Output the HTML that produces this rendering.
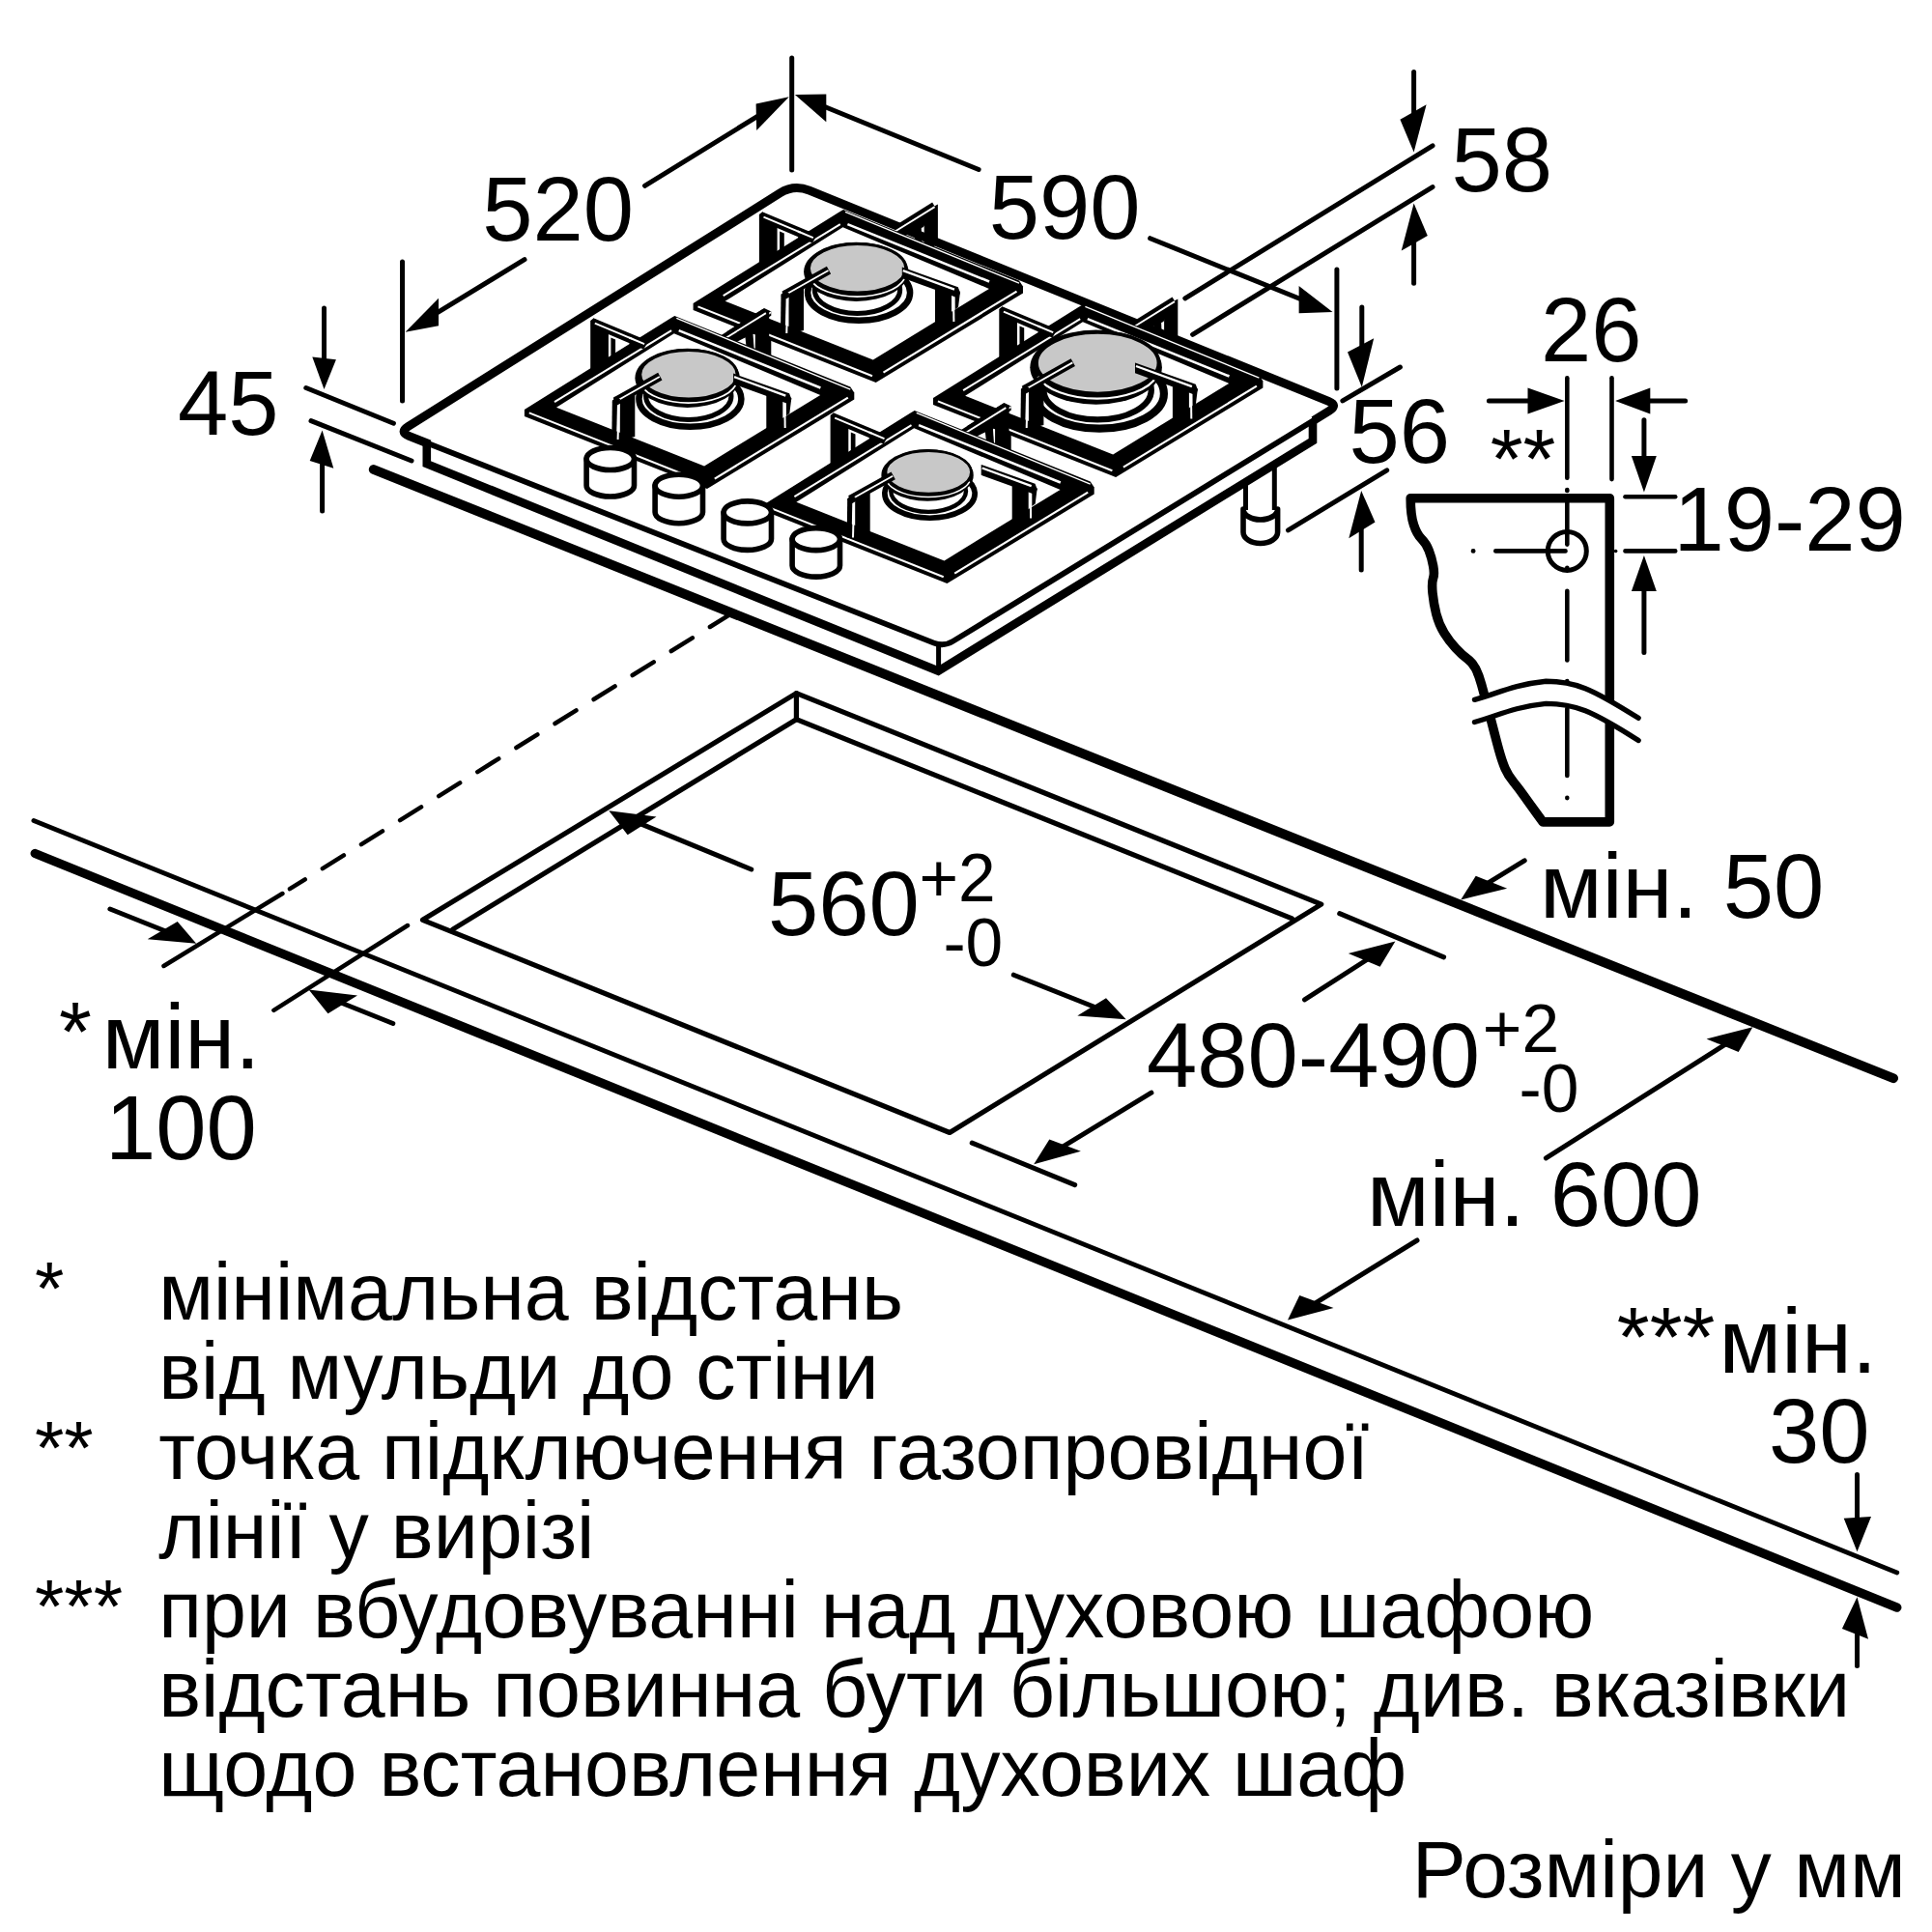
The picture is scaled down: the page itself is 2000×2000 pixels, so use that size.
<!DOCTYPE html>
<html lang="uk"><head><meta charset="utf-8"><title>Розміри</title>
<style>
html,body{margin:0;padding:0;background:#fff}
svg{display:block}
text{font-family:"Liberation Sans",sans-serif;fill:#000}
</style></head><body>
<svg width="2000" height="2000" viewBox="0 0 2000 2000">
<rect width="2000" height="2000" fill="#fff"/>
<g id="counter">
<line x1="386.7" y1="486" x2="1960.1" y2="1116.3" stroke="#000" stroke-width="9.8" stroke-linecap="round"/>
<line x1="34.9" y1="849.4" x2="1963.8" y2="1627.9" stroke="#000" stroke-width="4.8" stroke-linecap="round"/>
<line x1="36.2" y1="883.5" x2="1963.8" y2="1664.1" stroke="#000" stroke-width="9.3" stroke-linecap="round"/>
</g>
<g id="cutout">
<polygon points="437.5,952.3 824.4,717.6 1367.8,936.1 983.1,1172.5" fill="none" stroke="#000" stroke-width="5.2" stroke-linejoin="round"/>
<polyline points="468.6,962.1 824.4,744.7 1337.5,950.8" fill="none" stroke="#000" stroke-width="5.2" stroke-linecap="round" stroke-linejoin="round"/>
<line x1="824.4" y1="717.6" x2="824.4" y2="744.7" stroke="#000" stroke-width="5.2" stroke-linecap="round"/>
</g>
<g id="ext">
<line x1="756.9" y1="635.3" x2="300" y2="920.2" stroke="#000" stroke-width="4.5" stroke-linecap="round" stroke-dasharray="25.9 21.36"/>
<line x1="292.4" y1="925" x2="169.5" y2="1000" stroke="#000" stroke-width="4.5" stroke-linecap="round"/>
<line x1="422" y1="958" x2="283.4" y2="1045.8" stroke="#000" stroke-width="4.5" stroke-linecap="round"/>
</g>
<g id="hob">
<polyline points="441.8,452 441.8,480.2 971.3,694.6 1359,456.3 1359,436" fill="none" stroke="#000" stroke-width="8.6" stroke-linecap="butt" stroke-linejoin="miter"/>
<line x1="971.6" y1="667" x2="971.6" y2="694" stroke="#000" stroke-width="5" stroke-linecap="round"/>
<path d="M423.4 451.3 Q413.2 447.3 422.5 441.5 L807.6 199.8 Q822 190.8 837.8 197.2 L1375.3 415.4 Q1385.5 419.5 1376.1 425.2 L986.4 663.9 Q977 669.6 966.8 665.6 Z" fill="#fff" stroke="#000" stroke-width="5.8" stroke-linecap="round" stroke-linejoin="round"/>
<path d="M444.8 459.8 L423.4 451.3 Q413.2 447.3 422.5 441.5 L807.6 199.8 Q822 190.8 837.8 197.2 L1375.3 415.4 Q1385.5 419.5 1376.1 425.2 L1359.9 435.2" fill="none" stroke="#000" stroke-width="8.9" stroke-linecap="butt" stroke-linejoin="round"/>
<line x1="1289.5" y1="499" x2="1289.5" y2="528" stroke="#000" stroke-width="5" stroke-linecap="butt"/>
<line x1="1319.3" y1="481" x2="1319.3" y2="528" stroke="#000" stroke-width="5" stroke-linecap="butt"/>
<path d="M1287 527 L1287 551 A17.8 11.5 0 0 0 1322.6 551 L1322.6 527 A17.8 11 0 0 1 1287 527 Z" fill="#fff" stroke="#000" stroke-width="5.6" stroke-linecap="round" stroke-linejoin="round"/>
</g>
<g id="bracket">
<path d="M1460.2 515.7 Q1460.2 533.5 1463.5 543.2 Q1466.7 553 1471.6 557.9 Q1476.5 562.8 1479.2 569.9 Q1482 577 1483.6 585.6 Q1485.2 594.3 1483.6 598.6 Q1482 603 1483 613.9 Q1484.1 624.8 1486.8 635.6 Q1489.6 646.5 1495 655.2 Q1500.4 663.9 1507 671 Q1513.5 678 1518.9 681.9 Q1524.3 685.7 1527.6 692.2 Q1530.9 698.7 1533.6 708.5 Q1536.3 718.3 1539.5 730.2 Q1542.8 742.2 1545.5 753 Q1548.3 763.9 1551.5 775.8 Q1554.8 787.8 1558 795.4 Q1561.3 803 1566.8 809.5 Q1572.2 816.1 1577.6 823.7 Q1583 831.3 1590.1 841.1 L1597.2 850.9 L1666.3 850.9 L1666.3 515.7 Z" fill="none" stroke="#000" stroke-width="9.6" stroke-linecap="round" stroke-linejoin="round"/>
<path d="M1526.5 724.3 C1549.7 718.4 1564.2 709 1600.4 705.2 C1630.4 705.2 1647.1 712.4 1696.1 743.3 L1696.1 766.5 L1659.1 742.6 L1600.4 728.4 L1572.2 731.2 L1526.5 747.5 Z" fill="#fff" stroke="none"/>
<path d="M1526.5 724.3 C1549.7 718.4 1564.2 709 1600.4 705.2 C1630.4 705.2 1647.1 712.4 1696.1 743.3" fill="none" stroke="#000" stroke-width="5.4" stroke-linecap="round" stroke-linejoin="round"/>
<path d="M1526.5 747.5 C1549.7 741.6 1564.2 732.2 1600.4 728.4 C1630.4 728.4 1647.1 735.6 1696.1 766.5" fill="none" stroke="#000" stroke-width="5.4" stroke-linecap="round" stroke-linejoin="round"/>
<ellipse cx="1622.3" cy="570.4" rx="20" ry="20" fill="none" stroke="#000" stroke-width="5"/>
<line x1="1622.3" y1="391.3" x2="1622.3" y2="494.8" stroke="#000" stroke-width="4.6" stroke-linecap="round"/>
<line x1="1622.3" y1="507" x2="1622.3" y2="508" stroke="#000" stroke-width="4.6" stroke-linecap="round"/>
<line x1="1622.3" y1="517" x2="1622.3" y2="563.6" stroke="#000" stroke-width="4.6" stroke-linecap="round"/>
<line x1="1622.3" y1="587.8" x2="1622.3" y2="588" stroke="#000" stroke-width="4.6" stroke-linecap="round"/>
<line x1="1622.3" y1="611.7" x2="1622.3" y2="683.5" stroke="#000" stroke-width="4.6" stroke-linecap="round"/>
<line x1="1622.3" y1="705" x2="1622.3" y2="705.3" stroke="#000" stroke-width="4.6" stroke-linecap="round"/>
<line x1="1622.3" y1="733.5" x2="1622.3" y2="803" stroke="#000" stroke-width="4.6" stroke-linecap="round"/>
<line x1="1622.3" y1="825.9" x2="1622.3" y2="826.1" stroke="#000" stroke-width="4.6" stroke-linecap="round"/>
<line x1="1668.5" y1="391.3" x2="1668.5" y2="496.1" stroke="#000" stroke-width="4.6" stroke-linecap="round"/>
<line x1="1525" y1="570.4" x2="1525.2" y2="570.4" stroke="#000" stroke-width="4.6" stroke-linecap="round"/>
<line x1="1548.3" y1="570.4" x2="1620.5" y2="570.4" stroke="#000" stroke-width="4.6" stroke-linecap="round"/>
<line x1="1672.5" y1="570.4" x2="1672.7" y2="570.4" stroke="#000" stroke-width="3.5" stroke-linecap="round"/>
<line x1="1682.5" y1="570.4" x2="1734.2" y2="570.4" stroke="#000" stroke-width="4.6" stroke-linecap="round"/>
<line x1="1682.5" y1="514.2" x2="1734.2" y2="514.2" stroke="#000" stroke-width="4.6" stroke-linecap="round"/>
</g>
<g id="dims">
<line x1="416.5" y1="271" x2="416.5" y2="415" stroke="#000" stroke-width="5" stroke-linecap="round"/>
<line x1="819.7" y1="60" x2="819.7" y2="176" stroke="#000" stroke-width="5" stroke-linecap="round"/>
<line x1="667.5" y1="192.3" x2="798.1" y2="111.8" stroke="#000" stroke-width="5" stroke-linecap="round"/>
<polygon points="816.8,100.2 782.6,107.6 783.2,135" fill="#000"/>
<line x1="543" y1="268.7" x2="438.4" y2="332.3" stroke="#000" stroke-width="5" stroke-linecap="round"/>
<polygon points="419.6,343.7 454,308.8 454,337.3" fill="#000"/>
<line x1="1013.1" y1="175.5" x2="843.3" y2="106.2" stroke="#000" stroke-width="5" stroke-linecap="round"/>
<polygon points="822.9,97.9 855.3,97.4 855.3,126.3" fill="#000"/>
<line x1="1190.6" y1="246.7" x2="1359.1" y2="314.8" stroke="#000" stroke-width="5" stroke-linecap="round"/>
<polygon points="1379.5,323 1344.6,295.9 1344.6,324.3" fill="#000"/>
<line x1="1383.9" y1="279" x2="1383.9" y2="402" stroke="#000" stroke-width="5" stroke-linecap="round"/>
<line x1="335.5" y1="319" x2="335.5" y2="381" stroke="#000" stroke-width="5" stroke-linecap="round"/>
<polygon points="335.5,403 323.3,369.6 347.9,372.2" fill="#000"/>
<line x1="333.6" y1="529" x2="333.6" y2="467.4" stroke="#000" stroke-width="5" stroke-linecap="round"/>
<polygon points="333.6,445.4 320.7,477 345.3,484.8" fill="#000"/>
<line x1="316.8" y1="401.5" x2="407.4" y2="438.2" stroke="#000" stroke-width="5" stroke-linecap="round"/>
<line x1="322" y1="435.6" x2="426" y2="477" stroke="#000" stroke-width="5" stroke-linecap="round"/>
<line x1="1463.6" y1="74.6" x2="1463.6" y2="135.4" stroke="#000" stroke-width="5" stroke-linecap="round"/>
<polygon points="1463.6,157.4 1449.4,123.8 1476.6,108.2" fill="#000"/>
<line x1="1463.6" y1="293.3" x2="1463.6" y2="232.5" stroke="#000" stroke-width="5" stroke-linecap="round"/>
<polygon points="1463.6,210.5 1450.7,259.6 1477.8,244.1" fill="#000"/>
<line x1="1226.8" y1="308.8" x2="1483" y2="150.9" stroke="#000" stroke-width="5" stroke-linecap="round"/>
<line x1="1234.6" y1="346.3" x2="1483" y2="193.6" stroke="#000" stroke-width="5" stroke-linecap="round"/>
<line x1="1409.8" y1="317.9" x2="1409.8" y2="378.7" stroke="#000" stroke-width="5" stroke-linecap="round"/>
<polygon points="1409.8,400.7 1395,364.4 1422.2,350.2" fill="#000"/>
<line x1="1409.2" y1="590" x2="1409.2" y2="530.1" stroke="#000" stroke-width="5" stroke-linecap="round"/>
<polygon points="1409.2,508.1 1396.3,557.3 1423.5,540.5" fill="#000"/>
<line x1="1389.9" y1="414.9" x2="1449.4" y2="380" stroke="#000" stroke-width="5" stroke-linecap="round"/>
<line x1="1333.5" y1="548.9" x2="1435.7" y2="486.8" stroke="#000" stroke-width="5" stroke-linecap="round"/>
<line x1="1541.4" y1="415.1" x2="1597.6" y2="415.1" stroke="#000" stroke-width="5" stroke-linecap="round"/>
<polygon points="1619.6,415.1 1581.5,401.6 1581.5,428.4" fill="#000"/>
<line x1="1744.6" y1="415.1" x2="1694.1" y2="415.1" stroke="#000" stroke-width="5" stroke-linecap="round"/>
<polygon points="1672.1,415.1 1708.3,401.6 1708.3,428.4" fill="#000"/>
<line x1="1701.9" y1="434.8" x2="1701.9" y2="487.6" stroke="#000" stroke-width="5" stroke-linecap="round"/>
<polygon points="1701.9,509.6 1688.9,472 1714.8,472" fill="#000"/>
<line x1="1701.9" y1="675.5" x2="1701.9" y2="597" stroke="#000" stroke-width="5" stroke-linecap="round"/>
<polygon points="1701.9,575 1688.9,612 1714.8,612" fill="#000"/>
<line x1="113.9" y1="941" x2="182.8" y2="968.5" stroke="#000" stroke-width="5" stroke-linecap="round"/>
<polygon points="203.2,976.7 152.7,972.3 183.7,953.9" fill="#000"/>
<line x1="406.8" y1="1059.5" x2="340" y2="1032.8" stroke="#000" stroke-width="5" stroke-linecap="round"/>
<polygon points="319.6,1024.6 370,1030.5 339.5,1049.2" fill="#000"/>
<line x1="777.8" y1="900" x2="650.6" y2="847.6" stroke="#000" stroke-width="5" stroke-linecap="round"/>
<polygon points="630.3,839.2 679.5,845.6 649.7,864.3" fill="#000"/>
<line x1="1049.3" y1="1009.2" x2="1145.2" y2="1047.2" stroke="#000" stroke-width="5" stroke-linecap="round"/>
<polygon points="1165.7,1055.3 1115.3,1051.4 1145,1033.3" fill="#000"/>
<line x1="1350.5" y1="1034.9" x2="1425.9" y2="986.5" stroke="#000" stroke-width="5" stroke-linecap="round"/>
<polygon points="1444.4,974.6 1395.8,987 1428.6,1000.8" fill="#000"/>
<line x1="1386.7" y1="945.6" x2="1494.6" y2="990.9" stroke="#000" stroke-width="5" stroke-linecap="round"/>
<line x1="1191.9" y1="1131.2" x2="1089" y2="1193.8" stroke="#000" stroke-width="5" stroke-linecap="round"/>
<polygon points="1070.2,1205.2 1118.9,1191.8 1086.3,1179.4" fill="#000"/>
<line x1="1006.2" y1="1183.1" x2="1112.7" y2="1226.6" stroke="#000" stroke-width="5" stroke-linecap="round"/>
<line x1="1578.2" y1="890.8" x2="1530.9" y2="919.9" stroke="#000" stroke-width="5" stroke-linecap="round"/>
<polygon points="1512.2,931.4 1560.1,919.8 1527.7,906.8" fill="#000"/>
<line x1="1600.4" y1="1198.8" x2="1795.8" y2="1075" stroke="#000" stroke-width="5" stroke-linecap="round"/>
<polygon points="1814.4,1063.2 1766.6,1075.4 1799.7,1089.1" fill="#000"/>
<line x1="1467" y1="1284" x2="1351.7" y2="1355.1" stroke="#000" stroke-width="5" stroke-linecap="round"/>
<polygon points="1333,1366.6 1380.5,1354.1 1345.3,1341.1" fill="#000"/>
<line x1="1922.5" y1="1526.4" x2="1922.5" y2="1584.2" stroke="#000" stroke-width="5" stroke-linecap="round"/>
<polygon points="1922.5,1606.2 1908.7,1571.7 1937,1570" fill="#000"/>
<line x1="1922.5" y1="1724.6" x2="1922.5" y2="1675.3" stroke="#000" stroke-width="5" stroke-linecap="round"/>
<polygon points="1922.5,1653.3 1906.9,1685.9 1934,1696.7" fill="#000"/>
</g>
<g id="labels">
<text x="499.2" y="249" font-size="94">520</text>
<text x="1023.7" y="247" font-size="94">590</text>
<text x="1502.5" y="197.5" font-size="94">58</text>
<text x="184" y="450" font-size="94">45</text>
<text x="1396.5" y="479" font-size="94">56</text>
<text x="1595.1" y="373.6" font-size="94">26</text>
<text x="1542.7" y="504.5" font-size="87">**</text>
<text x="1732.4" y="569.9" font-size="94">19-29</text>
<text x="61" y="1098" font-size="87">*</text>
<text x="105.8" y="1105.9" font-size="94">мін.</text>
<text x="109" y="1200" font-size="94">100</text>
<text x="794.9" y="968" font-size="94">560</text>
<text x="951.5" y="933.1" font-size="69.5">+2</text>
<text x="976.4" y="999.6" font-size="69.5">-0</text>
<text x="1187" y="1125.3" font-size="94">480-490</text>
<text x="1534.8" y="1089.3" font-size="69.5">+2</text>
<text x="1572.6" y="1151.4" font-size="69.5">-0</text>
<text x="1594" y="949.5" font-size="94">мін. 50</text>
<text x="1415.1" y="1268.5" font-size="94">мін. 600</text>
<text x="1673.8" y="1414.1" font-size="87">***</text>
<text x="1779.5" y="1421.4" font-size="94">мін.</text>
<text x="1830.9" y="1513.8" font-size="94">30</text>
</g>
<g id="legend">
<text x="164.2" y="1366.1" font-size="82.6">мінімальна відстань</text>
<text x="164.2" y="1448.3" font-size="82.6">від мульди до стіни</text>
<text x="164.2" y="1530.5" font-size="82.6">точка підключення газопровідної</text>
<text x="164.2" y="1612.7" font-size="82.6">лінії у вирізі</text>
<text x="164.2" y="1694.9" font-size="82.6">при вбудовуванні над духовою шафою</text>
<text x="164.2" y="1777.1" font-size="82.6">відстань повинна бути більшою; див. вказівки</text>
<text x="164.2" y="1859.3" font-size="82.6">щодо встановлення духових шаф</text>
<text x="36" y="1361.2" font-size="78">*</text>
<text x="36" y="1525.6" font-size="78">**</text>
<text x="36" y="1690" font-size="78">***</text>
<text x="1461.8" y="1964" font-size="84">Розміри у мм</text>
</g>
<g id="grates">
<g transform="translate(0 0)">
<polygon points="785.9,222 789,219.5 804.6,228 804.6,270 785.9,282" fill="#000"/>
<polygon points="807.1,239.5 811.8,241.5 811.8,262 807.1,265" fill="#000"/>
<polygon points="789,219.2 846,243 841,251.5 788,229" fill="#000"/>
<line x1="790.5" y1="224.6" x2="841.8" y2="246.1" stroke="#fff" stroke-width="1.9" stroke-linecap="butt"/>
<polygon points="956.7,219 970.9,211.5 970.9,252 956.7,262" fill="#000"/>
<polygon points="946,237.5 953.6,232.5 954.6,259 948,256" fill="#000"/>
<line x1="928.5" y1="235.5" x2="966.5" y2="211.8" stroke="#000" stroke-width="5.2" stroke-linecap="butt"/>
<polygon points="926.3,239.7 967.6,214.1 956,235 945,240 935,245" fill="#000"/>
<line x1="926.3" y1="239.7" x2="967.6" y2="214.1" stroke="#fff" stroke-width="1.9" stroke-linecap="butt"/>
<polygon points="781.8,330.4 798.3,323.2 798.3,376 781.8,368.7" fill="#000"/>
<polygon points="774.3,344.9 779.2,342 781.1,367.9 776.1,365.6" fill="#000"/>
<polygon points="717.6,314 868,220 873,217 1055,290.6 1059,296.5 1059,303.5 906.7,396 717.6,321" fill="#000"/>
<polygon points="750.7,311.8 872.5,235.3 1023.9,298.9 903.8,372.4" fill="#fff"/>
<line x1="748.7" y1="306.1" x2="869.8" y2="232.1" stroke="#fff" stroke-width="2" stroke-linecap="butt"/>
<line x1="875" y1="219.4" x2="1055" y2="293.2" stroke="#fff" stroke-width="1.4" stroke-linecap="butt"/>
<line x1="877.4" y1="232.1" x2="1024.1" y2="291.5" stroke="#fff" stroke-width="2.6" stroke-linecap="butt"/>
<line x1="722.5" y1="317.4" x2="903" y2="389.2" stroke="#fff" stroke-width="2" stroke-linecap="butt"/>
<line x1="1052.5" y1="301.6" x2="914.5" y2="385.6" stroke="#fff" stroke-width="2.2" stroke-linecap="butt"/>
<polygon points="830,238 846,243 841,251.5 826,246" fill="#000"/>
<line x1="826" y1="239.5" x2="841.8" y2="246.1" stroke="#fff" stroke-width="1.9" stroke-linecap="butt"/>
<polygon points="746.6,347 791.1,319 798.3,322.4 798.3,326.8 753.8,354.8 753.8,350.3" fill="#000"/>
<line x1="754.2" y1="350.7" x2="798.1" y2="323.2" stroke="#fff" stroke-width="1.9" stroke-linecap="butt"/>
<g transform="translate(886.7 278) scale(1.000) translate(-886.7 -278)">
<ellipse cx="889.1" cy="303" rx="53" ry="28.7" fill="#fff" stroke="#000" stroke-width="6.5"/>
<ellipse cx="887.5" cy="300" rx="44.2" ry="24.4" fill="#fff" stroke="#000" stroke-width="5"/>
<ellipse cx="886.3" cy="281.3" rx="54.2" ry="30.6" fill="#000"/>
<path d="M838.6 289 A50.5 24.6 0 0 0 936 289" fill="none" stroke="#fff" stroke-width="1.7"/>
<ellipse cx="887.6" cy="277.8" rx="50.2" ry="25.3" fill="#c8c8c8" stroke="#000" stroke-width="3"/>
</g>
<g transform="translate(0 0)">
<polygon points="816.5,303.5 832,295.5 832,342 816.5,346" fill="#000"/>
<polygon points="808.5,304.5 813.8,302 812.8,345 808,345" fill="#000"/>
<line x1="815.3" y1="305" x2="814.3" y2="345" stroke="#fff" stroke-width="2" stroke-linecap="butt"/>
<line x1="858" y1="279.7" x2="811.5" y2="305.6" stroke="#000" stroke-width="8.8" stroke-linecap="butt"/>
<line x1="857.5" y1="280" x2="814.5" y2="304.2" stroke="#fff" stroke-width="1.8" stroke-linecap="butt"/>
<polygon points="808.5,306.5 811.5,300.6 817,303.5 813.8,309" fill="#000"/>
</g>
<g transform="translate(0 0)">
<polygon points="968,296 985,302 985,331 968,341" fill="#000"/>
<polygon points="988.6,300 994,302 992,318 988.6,320.5" fill="#000"/>
<line x1="987" y1="301" x2="987.4" y2="333" stroke="#fff" stroke-width="2" stroke-linecap="butt"/>
<polygon points="933.8,276.6 991.8,297.3 994,303 991.8,308.5 933.8,287.5" fill="#000"/>
<line x1="934.8" y1="280.2" x2="988" y2="299.6" stroke="#fff" stroke-width="2.3" stroke-linecap="butt"/>
</g>
</g>
<g transform="translate(248.4 98)">
<polygon points="785.9,222 789,219.5 804.6,228 804.6,270 785.9,282" fill="#000"/>
<polygon points="807.1,239.5 811.8,241.5 811.8,262 807.1,265" fill="#000"/>
<polygon points="789,219.2 846,243 841,251.5 788,229" fill="#000"/>
<line x1="790.5" y1="224.6" x2="841.8" y2="246.1" stroke="#fff" stroke-width="1.9" stroke-linecap="butt"/>
<polygon points="956.7,219 970.9,211.5 970.9,252 956.7,262" fill="#000"/>
<polygon points="946,237.5 953.6,232.5 954.6,259 948,256" fill="#000"/>
<line x1="928.5" y1="235.5" x2="966.5" y2="211.8" stroke="#000" stroke-width="5.2" stroke-linecap="butt"/>
<polygon points="926.3,239.7 967.6,214.1 956,235 945,240 935,245" fill="#000"/>
<line x1="926.3" y1="239.7" x2="967.6" y2="214.1" stroke="#fff" stroke-width="1.9" stroke-linecap="butt"/>
<polygon points="781.8,330.4 798.3,323.2 798.3,376 781.8,368.7" fill="#000"/>
<polygon points="774.3,344.9 779.2,342 781.1,367.9 776.1,365.6" fill="#000"/>
<polygon points="717.6,314 868,220 873,217 1055,290.6 1059,296.5 1059,303.5 906.7,396 717.6,321" fill="#000"/>
<polygon points="750.7,311.8 872.5,235.3 1023.9,298.9 903.8,372.4" fill="#fff"/>
<line x1="748.7" y1="306.1" x2="869.8" y2="232.1" stroke="#fff" stroke-width="2" stroke-linecap="butt"/>
<line x1="875" y1="219.4" x2="1055" y2="293.2" stroke="#fff" stroke-width="1.4" stroke-linecap="butt"/>
<line x1="877.4" y1="232.1" x2="1024.1" y2="291.5" stroke="#fff" stroke-width="2.6" stroke-linecap="butt"/>
<line x1="722.5" y1="317.4" x2="903" y2="389.2" stroke="#fff" stroke-width="2" stroke-linecap="butt"/>
<line x1="1052.5" y1="301.6" x2="914.5" y2="385.6" stroke="#fff" stroke-width="2.2" stroke-linecap="butt"/>
<polygon points="830,238 846,243 841,251.5 826,246" fill="#000"/>
<line x1="826" y1="239.5" x2="841.8" y2="246.1" stroke="#fff" stroke-width="1.9" stroke-linecap="butt"/>
<polygon points="746.6,347 791.1,319 798.3,322.4 798.3,326.8 753.8,354.8 753.8,350.3" fill="#000"/>
<line x1="754.2" y1="350.7" x2="798.1" y2="323.2" stroke="#fff" stroke-width="1.9" stroke-linecap="butt"/>
<g transform="translate(886.7 278) scale(1.260) translate(-886.7 -278)">
<ellipse cx="889.1" cy="303" rx="53" ry="28.7" fill="#fff" stroke="#000" stroke-width="6.5"/>
<ellipse cx="887.5" cy="300" rx="44.2" ry="24.4" fill="#fff" stroke="#000" stroke-width="5"/>
<ellipse cx="886.3" cy="281.3" rx="54.2" ry="30.6" fill="#000"/>
<path d="M838.6 289 A50.5 24.6 0 0 0 936 289" fill="none" stroke="#fff" stroke-width="1.7"/>
<ellipse cx="887.6" cy="277.8" rx="50.2" ry="25.3" fill="#c8c8c8" stroke="#000" stroke-width="3"/>
</g>
<g transform="translate(0 0)">
<polygon points="816.5,303.5 832,295.5 832,342 816.5,346" fill="#000"/>
<polygon points="808.5,304.5 813.8,302 812.8,345 808,345" fill="#000"/>
<line x1="815.3" y1="305" x2="814.3" y2="345" stroke="#fff" stroke-width="2" stroke-linecap="butt"/>
<line x1="862.4" y1="277.1" x2="811.5" y2="305.6" stroke="#000" stroke-width="8.8" stroke-linecap="butt"/>
<line x1="861.9" y1="277.4" x2="814.5" y2="304.2" stroke="#fff" stroke-width="1.8" stroke-linecap="butt"/>
<polygon points="808.5,306.5 811.5,300.6 817,303.5 813.8,309" fill="#000"/>
</g>
<g transform="translate(-2.5 2.5)">
<polygon points="968,296 985,302 985,331 968,341" fill="#000"/>
<polygon points="988.6,300 994,302 992,318 988.6,320.5" fill="#000"/>
<line x1="987" y1="301" x2="987.4" y2="333" stroke="#fff" stroke-width="2" stroke-linecap="butt"/>
<polygon points="929.1,274.9 991.8,297.3 994,303 991.8,308.5 929.1,285.8" fill="#000"/>
<line x1="930.1" y1="278.5" x2="988" y2="299.6" stroke="#fff" stroke-width="2.3" stroke-linecap="butt"/>
</g>
</g>
<g transform="translate(-174.7 110)">
<polygon points="785.9,222 789,219.5 804.6,228 804.6,270 785.9,282" fill="#000"/>
<polygon points="807.1,239.5 811.8,241.5 811.8,262 807.1,265" fill="#000"/>
<polygon points="789,219.2 846,243 841,251.5 788,229" fill="#000"/>
<line x1="790.5" y1="224.6" x2="841.8" y2="246.1" stroke="#fff" stroke-width="1.9" stroke-linecap="butt"/>
<polygon points="956.7,219 970.9,211.5 970.9,252 956.7,262" fill="#000"/>
<polygon points="946,237.5 953.6,232.5 954.6,259 948,256" fill="#000"/>
<line x1="928.5" y1="235.5" x2="966.5" y2="211.8" stroke="#000" stroke-width="5.2" stroke-linecap="butt"/>
<polygon points="926.3,239.7 967.6,214.1 956,235 945,240 935,245" fill="#000"/>
<line x1="926.3" y1="239.7" x2="967.6" y2="214.1" stroke="#fff" stroke-width="1.9" stroke-linecap="butt"/>
<polygon points="717.6,314 868,220 873,217 1055,290.6 1059,296.5 1059,303.5 906.7,396 717.6,321" fill="#000"/>
<polygon points="750.7,311.8 872.5,235.3 1023.9,298.9 903.8,372.4" fill="#fff"/>
<line x1="748.7" y1="306.1" x2="869.8" y2="232.1" stroke="#fff" stroke-width="2" stroke-linecap="butt"/>
<line x1="875" y1="219.4" x2="1055" y2="293.2" stroke="#fff" stroke-width="1.4" stroke-linecap="butt"/>
<line x1="877.4" y1="232.1" x2="1024.1" y2="291.5" stroke="#fff" stroke-width="2.6" stroke-linecap="butt"/>
<line x1="722.5" y1="317.4" x2="903" y2="389.2" stroke="#fff" stroke-width="2" stroke-linecap="butt"/>
<line x1="1052.5" y1="301.6" x2="914.5" y2="385.6" stroke="#fff" stroke-width="2.2" stroke-linecap="butt"/>
<polygon points="830,238 846,243 841,251.5 826,246" fill="#000"/>
<line x1="826" y1="239.5" x2="841.8" y2="246.1" stroke="#fff" stroke-width="1.9" stroke-linecap="butt"/>
<g transform="translate(886.7 278) scale(1.000) translate(-886.7 -278)">
<ellipse cx="889.1" cy="303" rx="53" ry="28.7" fill="#fff" stroke="#000" stroke-width="6.5"/>
<ellipse cx="887.5" cy="300" rx="44.2" ry="24.4" fill="#fff" stroke="#000" stroke-width="5"/>
<ellipse cx="886.3" cy="281.3" rx="54.2" ry="30.6" fill="#000"/>
<path d="M838.6 289 A50.5 24.6 0 0 0 936 289" fill="none" stroke="#fff" stroke-width="1.7"/>
<ellipse cx="887.6" cy="277.8" rx="50.2" ry="25.3" fill="#c8c8c8" stroke="#000" stroke-width="3"/>
</g>
<g transform="translate(0 0)">
<polygon points="816.5,303.5 832,295.5 832,342 816.5,346" fill="#000"/>
<polygon points="808.5,304.5 813.8,302 812.8,345 808,345" fill="#000"/>
<line x1="815.3" y1="305" x2="814.3" y2="345" stroke="#fff" stroke-width="2" stroke-linecap="butt"/>
<line x1="858" y1="279.7" x2="811.5" y2="305.6" stroke="#000" stroke-width="8.8" stroke-linecap="butt"/>
<line x1="857.5" y1="280" x2="814.5" y2="304.2" stroke="#fff" stroke-width="1.8" stroke-linecap="butt"/>
<polygon points="808.5,306.5 811.5,300.6 817,303.5 813.8,309" fill="#000"/>
</g>
<g transform="translate(0 0)">
<polygon points="968,296 985,302 985,331 968,341" fill="#000"/>
<polygon points="988.6,300 994,302 992,318 988.6,320.5" fill="#000"/>
<line x1="987" y1="301" x2="987.4" y2="333" stroke="#fff" stroke-width="2" stroke-linecap="butt"/>
<polygon points="933.8,276.6 991.8,297.3 994,303 991.8,308.5 933.8,287.5" fill="#000"/>
<line x1="934.8" y1="280.2" x2="988" y2="299.6" stroke="#fff" stroke-width="2.3" stroke-linecap="butt"/>
</g>
</g>
<g transform="translate(73.7 208)">
<polygon points="785.9,222 789,219.5 804.6,228 804.6,270 785.9,282" fill="#000"/>
<polygon points="807.1,239.5 811.8,241.5 811.8,262 807.1,265" fill="#000"/>
<polygon points="789,219.2 846,243 841,251.5 788,229" fill="#000"/>
<line x1="790.5" y1="224.6" x2="841.8" y2="246.1" stroke="#fff" stroke-width="1.9" stroke-linecap="butt"/>
<polygon points="956.7,219 970.9,211.5 970.9,252 956.7,262" fill="#000"/>
<polygon points="946,237.5 953.6,232.5 954.6,259 948,256" fill="#000"/>
<line x1="928.5" y1="235.5" x2="966.5" y2="211.8" stroke="#000" stroke-width="5.2" stroke-linecap="butt"/>
<polygon points="926.3,239.7 967.6,214.1 956,235 945,240 935,245" fill="#000"/>
<line x1="926.3" y1="239.7" x2="967.6" y2="214.1" stroke="#fff" stroke-width="1.9" stroke-linecap="butt"/>
<polygon points="717.6,314 868,220 873,217 1055,290.6 1059,296.5 1059,303.5 906.7,396 717.6,321" fill="#000"/>
<polygon points="750.7,311.8 872.5,235.3 1023.9,298.9 903.8,372.4" fill="#fff"/>
<line x1="748.7" y1="306.1" x2="869.8" y2="232.1" stroke="#fff" stroke-width="2" stroke-linecap="butt"/>
<line x1="875" y1="219.4" x2="1055" y2="293.2" stroke="#fff" stroke-width="1.4" stroke-linecap="butt"/>
<line x1="877.4" y1="232.1" x2="1024.1" y2="291.5" stroke="#fff" stroke-width="2.6" stroke-linecap="butt"/>
<line x1="722.5" y1="317.4" x2="903" y2="389.2" stroke="#fff" stroke-width="2" stroke-linecap="butt"/>
<line x1="1052.5" y1="301.6" x2="914.5" y2="385.6" stroke="#fff" stroke-width="2.2" stroke-linecap="butt"/>
<polygon points="830,238 846,243 841,251.5 826,246" fill="#000"/>
<line x1="826" y1="239.5" x2="841.8" y2="246.1" stroke="#fff" stroke-width="1.9" stroke-linecap="butt"/>
<g transform="translate(886.7 281) scale(0.880) translate(-886.7 -278)">
<ellipse cx="889.1" cy="303" rx="53" ry="28.7" fill="#fff" stroke="#000" stroke-width="6.5"/>
<ellipse cx="887.5" cy="300" rx="44.2" ry="24.4" fill="#fff" stroke="#000" stroke-width="5"/>
<ellipse cx="886.3" cy="281.3" rx="54.2" ry="30.6" fill="#000"/>
<path d="M838.6 289 A50.5 24.6 0 0 0 936 289" fill="none" stroke="#fff" stroke-width="1.7"/>
<ellipse cx="887.6" cy="277.8" rx="50.2" ry="25.3" fill="#c8c8c8" stroke="#000" stroke-width="3"/>
</g>
<g transform="translate(-5 3.5)">
<polygon points="816.5,303.5 832,295.5 832,342 816.5,346" fill="#000"/>
<polygon points="808.5,304.5 813.8,302 812.8,345 808,345" fill="#000"/>
<line x1="815.3" y1="305" x2="814.3" y2="345" stroke="#fff" stroke-width="2" stroke-linecap="butt"/>
<line x1="856" y1="280.9" x2="811.5" y2="305.6" stroke="#000" stroke-width="8.8" stroke-linecap="butt"/>
<line x1="855.5" y1="281.2" x2="814.5" y2="304.2" stroke="#fff" stroke-width="1.8" stroke-linecap="butt"/>
<polygon points="808.5,306.5 811.5,300.6 817,303.5 813.8,309" fill="#000"/>
</g>
<g transform="translate(6 -4.5)">
<polygon points="968,296 985,302 985,331 968,341" fill="#000"/>
<polygon points="988.6,300 994,302 992,318 988.6,320.5" fill="#000"/>
<line x1="987" y1="301" x2="987.4" y2="333" stroke="#fff" stroke-width="2" stroke-linecap="butt"/>
<polygon points="936,277.4 991.8,297.3 994,303 991.8,308.5 936,288.3" fill="#000"/>
<line x1="937" y1="281" x2="988" y2="299.6" stroke="#fff" stroke-width="2.3" stroke-linecap="butt"/>
</g>
</g>
</g>
<g id="knobs">
<path d="M607.1 475 L607.1 502.5 A24.7 11.5 0 0 0 656.5 502.5 L656.5 475" fill="#fff" stroke="#000" stroke-width="5.6" stroke-linecap="round" stroke-linejoin="round"/>
<ellipse cx="631.8" cy="475" rx="24.7" ry="11.5" fill="#fff" stroke="#000" stroke-width="5.6"/>
<path d="M678.1 502.7 L678.1 530.2 A24.7 11.5 0 0 0 727.5 530.2 L727.5 502.7" fill="#fff" stroke="#000" stroke-width="5.6" stroke-linecap="round" stroke-linejoin="round"/>
<ellipse cx="702.8" cy="502.7" rx="24.7" ry="11.5" fill="#fff" stroke="#000" stroke-width="5.6"/>
<path d="M749.1 530.4 L749.1 557.9 A24.7 11.5 0 0 0 798.5 557.9 L798.5 530.4" fill="#fff" stroke="#000" stroke-width="5.6" stroke-linecap="round" stroke-linejoin="round"/>
<ellipse cx="773.8" cy="530.4" rx="24.7" ry="11.5" fill="#fff" stroke="#000" stroke-width="5.6"/>
<path d="M820.1 558.1 L820.1 585.6 A24.7 11.5 0 0 0 869.5 585.6 L869.5 558.1" fill="#fff" stroke="#000" stroke-width="5.6" stroke-linecap="round" stroke-linejoin="round"/>
<ellipse cx="844.8" cy="558.1" rx="24.7" ry="11.5" fill="#fff" stroke="#000" stroke-width="5.6"/>
</g>
</svg>
</body></html>
